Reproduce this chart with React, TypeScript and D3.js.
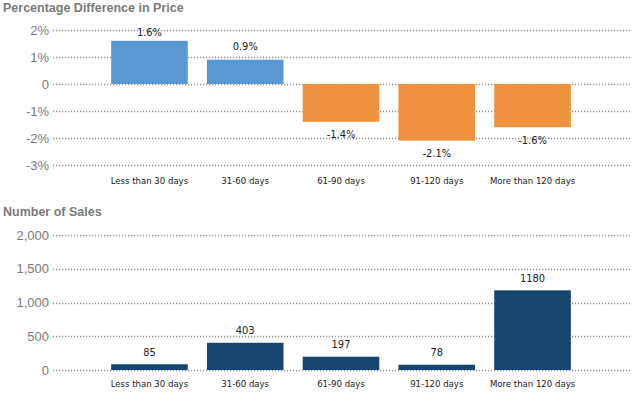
import React from 'react';
import * as d3 from 'd3';

const categories = ['Less than 30 days', '31-60 days', '61-90 days', '91-120 days', 'More than 120 days'];
const pctDiff = [1.6, 0.9, -1.4, -2.1, -1.6];
const salesCount = [85, 403, 197, 78, 1180];
const pctTicks = [2, 1, 0, -1, -2, -3];
const salesTicks = [0, 500, 1000, 1500, 2000];

const W = 633;
const H = 400;
const gridLeft = 53;
const gridRight = 630;

const tickFont = '"Liberation Sans", Arial, sans-serif';
const smallFont = '"DejaVu Sans Condensed", "Liberation Sans", sans-serif';

const App: React.FC = () => {
  const x = d3.scaleBand<string>()
    .domain(categories)
    .range([92, 590])
    .paddingInner(0.2)
    .paddingOuter(0.2);

  const yPct = d3.scaleLinear().domain([-3, 2]).range([165, 30]);
  const ySales = d3.scaleLinear().domain([0, 2000]).range([370, 235]);

  const fmtPct = (d: number) => (d === 0 ? '0' : `${d}%`);
  const fmtCount = d3.format(',');

  const grid = (y: number, key: string) => (
    <line key={key} x1={gridLeft} x2={gridRight} y1={y} y2={y}
      stroke="#8f8f8f" strokeWidth={1.5} strokeDasharray="1.2 1.8" />
  );

  return (
    <svg width={W} height={H} style={{ position: 'absolute', left: 0, top: 0, background: '#fff' }}>
      {/* top chart */}
      <text x={3} y={8} dominantBaseline="central" fontFamily={tickFont} fontWeight="bold"
        fontSize={12.5} fill="#7b7b7b">Percentage Difference in Price</text>
      {pctTicks.map(t => (
        <g key={`pt${t}`}>
          {grid(Math.round(yPct(t)) + 0.5, `pg${t}`)}
          <text x={49} y={yPct(t)} textAnchor="end" dominantBaseline="central"
            fontFamily={tickFont} fontSize={13} fill="#7b7b7b">{fmtPct(t)}</text>
        </g>
      ))}
      {categories.map((c, i) => {
        const v = pctDiff[i];
        const y0 = yPct(0);
        const y1 = yPct(v);
        const labelY = v >= 0 ? Math.max(y1 - 13, 32) : y1 + 13;
        return (
          <g key={`pb${c}`}>
            <rect x={x(c)} width={x.bandwidth()} y={Math.min(y0, y1)} height={Math.abs(y1 - y0)}
              fill={v >= 0 ? '#5899d3' : '#ef9240'} />
            <text x={(x(c) ?? 0) + x.bandwidth() / 2} y={labelY} textAnchor="middle"
              dominantBaseline="central" fontFamily={smallFont} fontSize={11} fill="#222">
              {`${v}%`}
            </text>
            <text x={(x(c) ?? 0) + x.bandwidth() / 2} y={180} textAnchor="middle"
              dominantBaseline="central" fontFamily={smallFont} fontSize={9.5} fill="#222">{c}</text>
          </g>
        );
      })}

      {/* bottom chart */}
      <text x={3} y={212} dominantBaseline="central" fontFamily={tickFont} fontWeight="bold"
        fontSize={12.5} fill="#7b7b7b">Number of Sales</text>
      {salesTicks.map(t => (
        <g key={`st${t}`}>
          {grid(Math.round(ySales(t)) + 0.5, `sg${t}`)}
          <text x={49} y={ySales(t)} textAnchor="end" dominantBaseline="central"
            fontFamily={tickFont} fontSize={13} fill="#7b7b7b">{fmtCount(t)}</text>
        </g>
      ))}
      {categories.map((c, i) => {
        const v = salesCount[i];
        const y1 = ySales(v);
        return (
          <g key={`sb${c}`}>
            <rect x={x(c)} width={x.bandwidth()} y={y1} height={ySales(0) - y1} fill="#16466f" />
            <text x={(x(c) ?? 0) + x.bandwidth() / 2} y={y1 - 12} textAnchor="middle"
              dominantBaseline="central" fontFamily={smallFont} fontSize={11} fill="#222">{v}</text>
            <text x={(x(c) ?? 0) + x.bandwidth() / 2} y={383} textAnchor="middle"
              dominantBaseline="central" fontFamily={smallFont} fontSize={9.5} fill="#222">{c}</text>
          </g>
        );
      })}
    </svg>
  );
};

export default App;
